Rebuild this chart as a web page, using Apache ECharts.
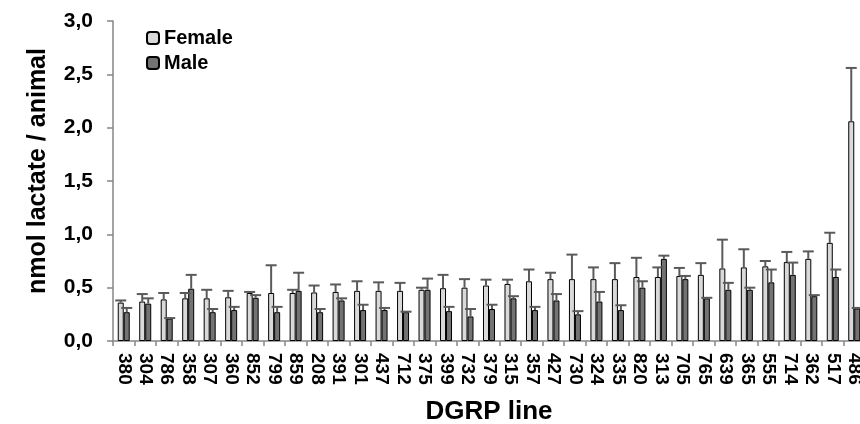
<!DOCTYPE html>
<html><head><meta charset="utf-8">
<script src="https://cdn.jsdelivr.net/npm/echarts@6/dist/echarts.min.js"></script>
<style>html,body{margin:0;padding:0;background:#fff}#c{width:860px;height:424px}</style>
</head><body><div id="c"></div>
<script>
const categories = ['380','304','786','358','307','360','852','799','859','208','391','301','437','712','375','399','732','379','315','357','427','730','324','335','820','313','705','765','639','365','555','714','362','517','486'];
const femaleMean = [0.36,0.37,0.39,0.40,0.40,0.41,0.45,0.45,0.45,0.455,0.46,0.47,0.47,0.47,0.48,0.495,0.50,0.52,0.535,0.56,0.58,0.58,0.58,0.58,0.60,0.60,0.61,0.62,0.68,0.69,0.70,0.74,0.77,0.92,2.06];
const femaleErr  = [0.02,0.07,0.06,0.05,0.08,0.06,0.01,0.26,0.03,0.065,0.07,0.09,0.08,0.075,0.02,0.125,0.08,0.055,0.04,0.11,0.06,0.23,0.11,0.15,0.18,0.09,0.075,0.11,0.27,0.17,0.05,0.095,0.07,0.095,0.50];
const maleMean = [0.27,0.35,0.21,0.49,0.27,0.29,0.405,0.27,0.47,0.27,0.38,0.29,0.29,0.27,0.48,0.28,0.23,0.30,0.40,0.29,0.38,0.25,0.37,0.29,0.50,0.77,0.58,0.40,0.48,0.48,0.55,0.62,0.42,0.60,0.305];
const maleErr  = [0.04,0.05,0.005,0.13,0.03,0.03,0.025,0.05,0.17,0.03,0.02,0.05,0.02,0.005,0.105,0.04,0.07,0.04,0.02,0.03,0.06,0.03,0.09,0.045,0.06,0.03,0.03,0.005,0.065,0.02,0.12,0.115,0.01,0.07,0.005];
const yTicks = [0,0.5,1,1.5,2,2.5,3];

const FONT = '"Liberation Sans", Arial, sans-serif';
const BAR_W = 6;
function errRender(offset){
  return function(params, api){
    const i = api.value(0), m = api.value(1), e = api.value(2);
    const p0 = api.coord([i, m]);
    const p1 = api.coord([i, m + e]);
    const x = p0[0] + offset, half = 5.5;
    const st = {stroke:'#5a5a5a', lineWidth:2};
    return {type:'group', children:[
      {type:'line', shape:{x1:x, y1:p0[1], x2:x, y2:p1[1]}, style:st},
      {type:'line', shape:{x1:x-half, y1:p1[1], x2:x+half, y2:p1[1]}, style:st}
    ]};
  };
}
const chart = echarts.init(document.getElementById('c'), null, {renderer:'canvas'});
chart.setOption({
  animation:false,
  backgroundColor:'#fff',
  grid:{left:113, width:752, top:21, bottom:83, outerBoundsMode:'none', containLabel:false},
  legend:{
    data:['Female','Male'], orient:'vertical', left:141, top:22,
    itemWidth:12, itemHeight:12, itemGap:3,
    textStyle:{fontFamily:FONT, fontSize:20, fontWeight:'bold', color:'#000', lineHeight:22}
  },
  xAxis:{
    type:'category', data:categories,
    name:'DGRP line', nameLocation:'middle', nameGap:58,
    nameTextStyle:{fontFamily:FONT, fontSize:26, fontWeight:'bold', color:'#000'},
    axisLine:{lineStyle:{color:'#868686', width:1.5}},
    axisTick:{show:true, length:5, lineStyle:{color:'#868686', width:1.5}},
    axisLabel:{interval:0, rotate:-90, margin:12, fontFamily:FONT, fontSize:19, fontWeight:'bold', color:'#000'}
  },
  yAxis:{
    type:'value', min:0, max:3, interval:0.5,
    name:'nmol lactate / animal', nameLocation:'middle', nameGap:62,
    nameTextStyle:{fontFamily:FONT, fontSize:25, fontWeight:'bold', color:'#000', padding:[0,0,0,20]},
    axisLine:{show:true, lineStyle:{color:'#868686', width:1.5}},
    axisTick:{show:true, length:6, lineStyle:{color:'#868686', width:1.5}},
    splitLine:{show:false},
    axisLabel:{margin:20, fontFamily:FONT, fontSize:21, fontWeight:'bold', color:'#000',
      formatter:v => yTicks.includes(v) ? v.toFixed(1).replace('.', ',') : ''}
  },
  series:[
    {name:'Female', type:'bar', data:femaleMean, barWidth:BAR_W, barGap:'0%',
     itemStyle:{color:'#d9d9d9', borderColor:'#000', borderWidth:1}},
    {name:'Male', type:'bar', data:maleMean, barWidth:BAR_W, barGap:'0%',
     itemStyle:{color:'#737373', borderColor:'#000', borderWidth:1}},
    {name:'FemaleErr', type:'custom', renderItem:errRender(-BAR_W/2), z:5,
     data:femaleMean.map((v,i)=>[i, v, femaleErr[i]]), encode:{x:0, y:[1]}},
    {name:'MaleErr', type:'custom', renderItem:errRender(BAR_W/2), z:5,
     data:maleMean.map((v,i)=>[i, v, maleErr[i]]), encode:{x:0, y:[1]}}
  ]
});
</script></body></html>
